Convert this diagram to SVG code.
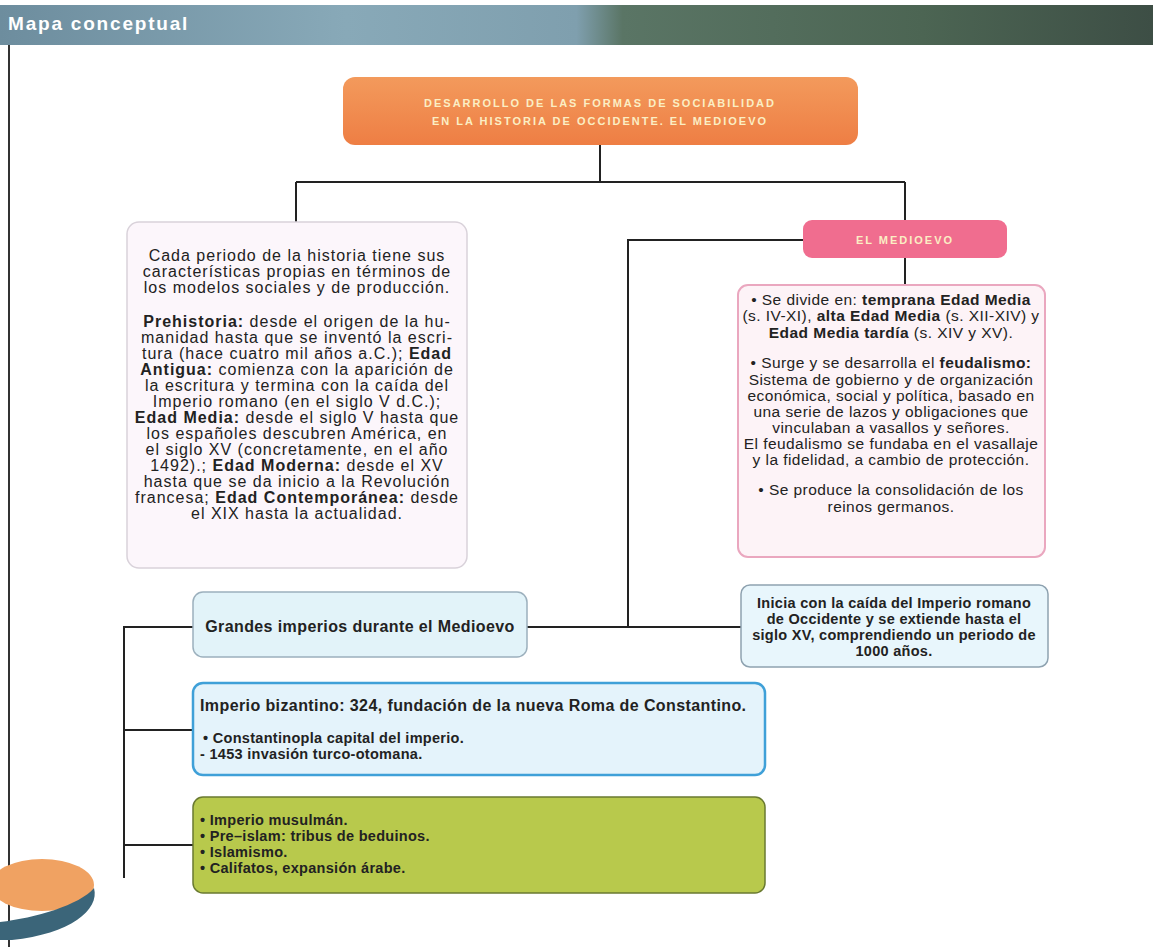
<svg xmlns="http://www.w3.org/2000/svg" width="1153" height="947" viewBox="0 0 1153 947">
<defs>
<linearGradient id="hdr" x1="0" y1="0" x2="1" y2="0">
<stop offset="0" stop-color="#6d8d9e"/>
<stop offset="0.3" stop-color="#88a9b8"/>
<stop offset="0.5" stop-color="#7f9fae"/>
<stop offset="0.54" stop-color="#5a7565"/>
<stop offset="0.8" stop-color="#4c6553"/>
<stop offset="1" stop-color="#3d4e45"/>
</linearGradient>
<linearGradient id="org" x1="0" y1="0" x2="0" y2="1">
<stop offset="0" stop-color="#f39a5c"/>
<stop offset="1" stop-color="#ee7e44"/>
</linearGradient>
</defs>
<style>
.t{font-family:"Liberation Sans",Arial,sans-serif;font-size:14.5px;fill:#222;letter-spacing:0.3px}
.l{font-size:16px;letter-spacing:1px}
.r{font-size:15.5px;letter-spacing:0.45px}
.g{font-size:16px;letter-spacing:0.4px}
.c{text-anchor:middle}
.b{font-weight:bold}
.cap{font-family:"Liberation Sans",Arial,sans-serif;font-size:11px;font-weight:bold;fill:#fbeec4;letter-spacing:2px;text-anchor:middle}
.ln{stroke:#222;stroke-width:2;fill:none}
</style>
<rect x="0" y="0" width="1153" height="947" fill="#ffffff"/>
<rect x="0" y="5" width="1153" height="40" fill="url(#hdr)"/>
<text x="8" y="30" font-family="Liberation Sans, Arial, sans-serif" font-size="19" font-weight="bold" letter-spacing="1.8" fill="#ffffff">Mapa conceptual</text>
<line x1="9" y1="45" x2="9" y2="947" stroke="#333" stroke-width="2"/>
<g id="decor">
<ellipse cx="42" cy="885" rx="52" ry="26" fill="#f0a262"/>
<path d="M0,922 C35,918 80,905 94,888 C100,910 70,934 12,940 L0,940 Z" fill="#3b6579"/>
</g>
<g id="connectors">
<path class="ln" d="M600,145 V182 M296,182 H905 M296,182 V222 M905,182 V220 M905,258 V285 M803,240 H628 V627 M527,627 H742 M193,627 H124 V878 M124,730 H193 M124,845 H193"/>
</g>
<g id="title">
<rect x="343" y="77" width="515" height="68" rx="12" fill="url(#org)"/>
<text class="cap" x="600" y="107">DESARROLLO DE LAS FORMAS DE SOCIABILIDAD</text>
<text class="cap" x="600" y="125">EN LA HISTORIA DE OCCIDENTE. EL MEDIOEVO</text>
</g>
<g id="periodos">
<rect x="127" y="222" width="340" height="346" rx="12" fill="#fcf6fb" stroke="#d9d2da" stroke-width="1.5"/>
<text class="t l c" x="297" y="261">Cada periodo de la historia tiene sus</text>
<text class="t l c" x="297" y="277">características propias en términos de</text>
<text class="t l c" x="297" y="293">los modelos sociales y de producción.</text>
<text class="t l c" x="297" y="327"><tspan class="b">Prehistoria:</tspan> desde el origen de la hu-</text>
<text class="t l c" x="297" y="343">manidad hasta que se inventó la escri-</text>
<text class="t l c" x="297" y="359">tura (hace cuatro mil años a.C.); <tspan class="b">Edad</tspan></text>
<text class="t l c" x="297" y="375"><tspan class="b">Antigua:</tspan> comienza con la aparición de</text>
<text class="t l c" x="297" y="391">la escritura y termina con la caída del</text>
<text class="t l c" x="297" y="407">Imperio romano (en el siglo V d.C.);</text>
<text class="t l c" x="297" y="423"><tspan class="b">Edad Media:</tspan> desde el siglo V hasta que</text>
<text class="t l c" x="297" y="439">los españoles descubren América, en</text>
<text class="t l c" x="297" y="455">el siglo XV (concretamente, en el año</text>
<text class="t l c" x="297" y="471">1492).; <tspan class="b">Edad Moderna:</tspan> desde el XV</text>
<text class="t l c" x="297" y="487">hasta que se da inicio a la Revolución</text>
<text class="t l c" x="297" y="503">francesa; <tspan class="b">Edad Contemporánea:</tspan> desde</text>
<text class="t l c" x="297" y="519">el XIX hasta la actualidad.</text>
</g>
<g id="medioevo">
<rect x="803" y="220" width="204" height="38" rx="9" fill="#f06d8f"/>
<text class="cap" x="905" y="244" fill="#fff" letter-spacing="1.6">EL MEDIOEVO</text>
</g>
<g id="caracteristicas">
<rect x="738" y="285" width="307" height="272" rx="10" fill="#fdf3f7" stroke="#eaa7bf" stroke-width="2"/>
<text class="t r c" x="891" y="305">• Se divide en: <tspan class="b">temprana Edad Media</tspan></text>
<text class="t r c" x="891" y="321">(s. IV-XI), <tspan class="b">alta Edad Media</tspan> (s. XII-XIV) y</text>
<text class="t r c" x="891" y="338"><tspan class="b">Edad Media tardía</tspan> (s. XIV y XV).</text>
<text class="t r c" x="891" y="368">• Surge y se desarrolla el <tspan class="b">feudalismo:</tspan></text>
<text class="t r c" x="891" y="385">Sistema de gobierno y de organización</text>
<text class="t r c" x="891" y="401">económica, social y política, basado en</text>
<text class="t r c" x="891" y="417">una serie de lazos y obligaciones que</text>
<text class="t r c" x="891" y="433">vinculaban a vasallos y señores.</text>
<text class="t r c" x="891" y="449">El feudalismo se fundaba en el vasallaje</text>
<text class="t r c" x="891" y="465">y la fidelidad, a cambio de protección.</text>
<text class="t r c" x="891" y="495">• Se produce la consolidación de los</text>
<text class="t r c" x="891" y="512">reinos germanos.</text>
</g>
<g id="inicia">
<rect x="741" y="585" width="307" height="82" rx="9" fill="#e8f6fc" stroke="#8ea2b0" stroke-width="1.5"/>
<text class="t c b" x="894" y="608">Inicia con la caída del Imperio romano</text>
<text class="t c b" x="894" y="624">de Occidente y se extiende hasta el</text>
<text class="t c b" x="894" y="640">siglo XV, comprendiendo un periodo de</text>
<text class="t c b" x="894" y="656">1000 años.</text>
</g>
<g id="grandes">
<rect x="193" y="592" width="334" height="65" rx="10" fill="#e2f3f9" stroke="#9cb0bd" stroke-width="1.5"/>
<text class="t g c b" x="360" y="632">Grandes imperios durante el Medioevo</text>
</g>
<g id="bizantino">
<rect x="193" y="683" width="572" height="92" rx="10" fill="#e4f3fb" stroke="#3fa0d8" stroke-width="2.5"/>
<text class="t g b" x="200" y="711">Imperio bizantino: 324, fundación de la nueva Roma de Constantino.</text>
<text class="t b" x="203" y="743">• Constantinopla capital del imperio.</text>
<text class="t b" x="200" y="759">- 1453 invasión turco-otomana.</text>
</g>
<g id="musulman">
<rect x="193" y="797" width="572" height="96" rx="10" fill="#b8c94c" stroke="#6a7a30" stroke-width="1.5"/>
<text class="t b" x="200" y="825">• Imperio musulmán.</text>
<text class="t b" x="200" y="841">• Pre–islam: tribus de beduinos.</text>
<text class="t b" x="200" y="857">• Islamismo.</text>
<text class="t b" x="200" y="873">• Califatos, expansión árabe.</text>
</g>
</svg>
